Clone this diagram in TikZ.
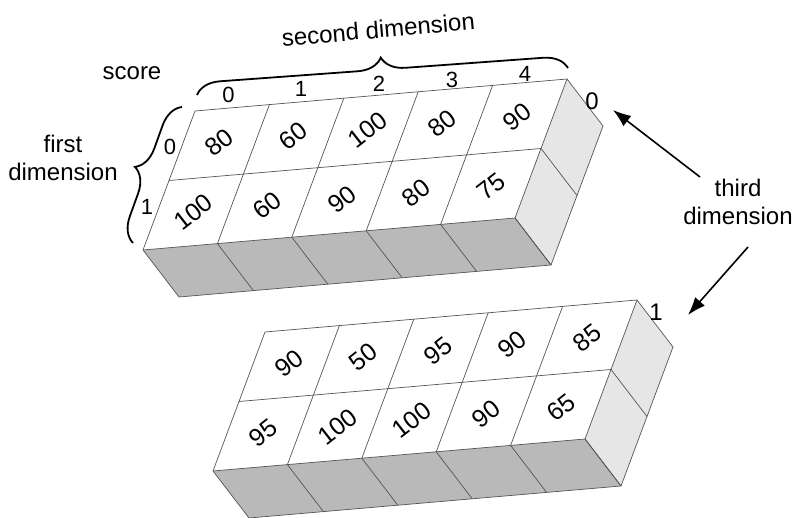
\documentclass[tikz,border=0pt]{standalone}
\usepackage{fontspec}
\setmainfont{Liberation Sans}
\usetikzlibrary{decorations.pathreplacing,arrows.meta,calc}

\definecolor{edgecol}{HTML}{555555}
\definecolor{frontgray}{HTML}{B9B9B9}
\definecolor{sidegray}{HTML}{E6E6E6}

\tikzset{
  cellnum/.style={font=\fontsize{25}{30}\selectfont, rotate=38, inner sep=0pt},
  lbl/.style={font=\fontsize{24}{28}\selectfont, inner sep=0pt},
  idx/.style={font=\fontsize{22}{26}\selectfont, inner sep=0pt},
  edgeline/.style={draw=edgecol, line width=0.7pt},
  bracestyle/.style={decorate, decoration={brace, amplitude=24pt}, line width=1.8pt},
  arrowstyle/.style={-{Latex[length=18pt,width=13pt]}, line width=1.6pt}
}

\newcommand\dblock[3]{%
\begin{scope}[shift={#1}, x={(74.4pt,6.4pt)}, y={(-26pt,-69.5pt)}, z={(36pt,-47pt)}]
  \fill[white] (0,0,0) -- (5,0,0) -- (5,2,0) -- (0,2,0) -- cycle;
  \fill[sidegray] (5,0,0) -- (5,2,0) -- (5,2,1) -- (5,0,1) -- cycle;
  \fill[frontgray] (0,2,0) -- (5,2,0) -- (5,2,1) -- (0,2,1) -- cycle;
  \foreach \i in {0,...,5} \draw[edgeline] (\i,0,0) -- (\i,2,0) -- (\i,2,1);
  \foreach \j in {0,1,2} \draw[edgeline] (0,\j,0) -- (5,\j,0) -- (5,\j,1);
  \draw[edgeline] (0,2,1) -- (5,2,1) -- (5,0,1);
  \foreach \v [count=\k from 0] in {#3} {
    \pgfmathtruncatemacro\rr{int(\k/5)}
    \pgfmathtruncatemacro\cc{\k-5*\rr}
    \node[cellnum] (#2-\k) at (\cc+0.5,\rr+0.5,0) {\v};
  }
\end{scope}}

\begin{document}
\begin{tikzpicture}[x=1pt,y=1pt]
\useasboundingbox (0,0) rectangle (794,-518);

\dblock{(195pt,-111pt)}{ba}{80,60,100,80,90,100,60,90,80,75}
\dblock{(265pt,-332pt)}{bb}{90,50,95,90,85,95,100,100,90,65}

% labels
\node[lbl, anchor=base] (score) at (132,-80) {score};
\node[lbl, align=center] (firstdim) at (63,-158) {first\\dimension};
\node[lbl, anchor=base, rotate=5] (seconddim) at (379,-38) {second dimension};
\node[lbl, align=center] (thirddim) at (738,-202) {third\\dimension};

% column indices
\node[idx, anchor=base] (c0) at (228.5,-103) {0};
\node[idx, anchor=base] (c1) at (301,-97) {1};
\node[idx, anchor=base] (c2) at (379,-92) {2};
\node[idx, anchor=base] (c3) at (452,-88) {3};
\node[idx, anchor=base] (c4) at (525,-82) {4};

% row indices
\node[idx] (r0) at (170,-147) {0};
\node[idx] (r1) at (147,-207) {1};

% third dimension indices
\node[lbl] (d0) at (592,-101) {0};
\node[lbl] (d1) at (656,-312) {1};

% braces
\coordinate (sbA) at (197,-95);
\coordinate (sbB) at (568,-68);
\draw[bracestyle] (sbA) -- (sbB);
\coordinate (fbA) at (133,-243);
\coordinate (fbB) at (182,-107);
\draw[bracestyle] (fbA) -- (fbB);

% arrows
\coordinate (a1s) at (700,-177);
\coordinate (a1e) at (613,-110);
\coordinate (a2s) at (748,-247);
\coordinate (a2e) at (688,-315);
\draw[arrowstyle] (a1s) -- (a1e);
\draw[arrowstyle] (a2s) -- (a2e);
\end{tikzpicture}
\end{document}
